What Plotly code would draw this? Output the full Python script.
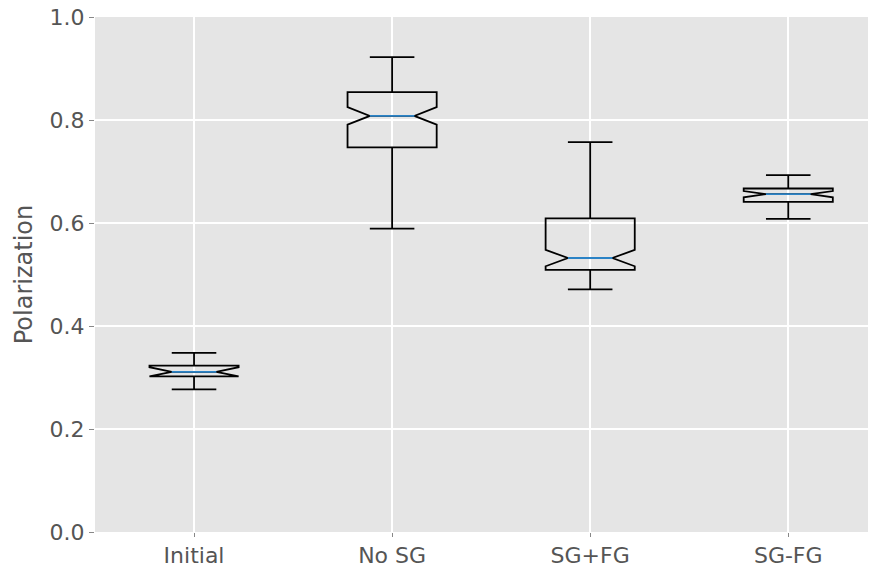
import plotly.graph_objects as go

categories = ["Initial", "No SG", "SG+FG", "SG-FG"]
positions = [1, 2, 3, 4]
lower_whisker = [0.277, 0.589, 0.471, 0.608]
q1 = [0.302, 0.747, 0.509, 0.641]
median = [0.311, 0.808, 0.532, 0.656]
q3 = [0.323, 0.854, 0.609, 0.667]
upper_whisker = [0.348, 0.922, 0.757, 0.693]
notch_half = [0.009, 0.017, 0.016, 0.006]

box_width = 0.45
text_color = "#555555"

fig = go.Figure()
fig.add_trace(go.Box(
    x=positions,
    q1=q1, median=median, q3=q3,
    lowerfence=lower_whisker, upperfence=upper_whisker,
    notchspan=notch_half,
    notched=True, notchwidth=0.25, whiskerwidth=0.5,
    width=box_width,
    boxpoints=False,
    line=dict(color="black", width=1.8),
    fillcolor="rgba(0,0,0,0)",
    showlegend=False,
    hoverinfo="skip",
))

for p, m in zip(positions, median):
    fig.add_trace(go.Scatter(
        x=[p - box_width / 4, p + box_width / 4], y=[m, m],
        mode="lines", line=dict(color="#2b83c6", width=1.8),
        showlegend=False, hoverinfo="skip",
    ))

# page body adds an 8px offset, so the figure is sized to fit the window
fig.update_layout(
    width=868, height=556,
    margin=dict(l=87, r=0, t=9, b=32),
    paper_bgcolor="white",
    plot_bgcolor="#E5E5E5",
    font=dict(family="DejaVu Sans", color=text_color, size=22),
)
fig.update_xaxes(
    range=[0.5, 4.443], automargin=False,
    tickmode="array", tickvals=positions, ticktext=categories,
    showgrid=True, gridcolor="white", gridwidth=1.5,
    zeroline=False, showline=False,
    ticks="outside", ticklen=4, tickwidth=1, tickcolor="#888888",
    tickfont=dict(size=22, color=text_color),
    ticklabeloverflow="allow",
)
fig.update_yaxes(
    range=[0, 1.0], automargin=False,
    tickmode="array", tickvals=[0, 0.2, 0.4, 0.6, 0.8, 1.0],
    ticktext=["0.0", "0.2", "0.4", "0.6", "0.8", "1.0"],
    showgrid=True, gridcolor="white", gridwidth=1.5,
    zeroline=False, showline=False,
    ticks="outside", ticklen=5, tickwidth=1, tickcolor="#888888",
    tickfont=dict(size=22, color=text_color),
    ticklabeloverflow="allow",
    title=dict(text="Polarization", font=dict(size=24, color=text_color), standoff=10),
)

fig.write_html("out.html")
